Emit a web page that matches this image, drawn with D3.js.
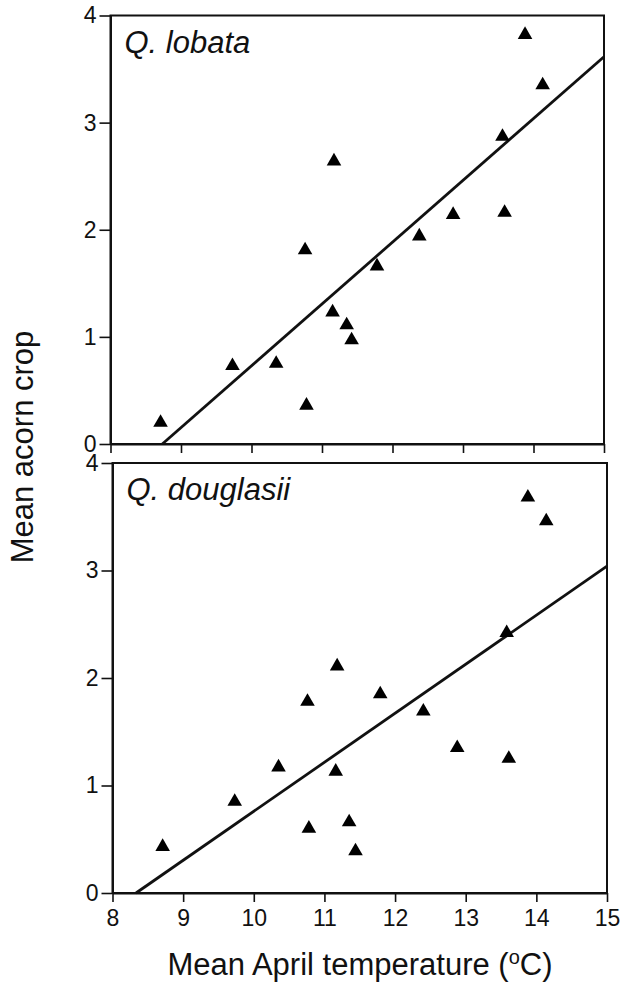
<!DOCTYPE html>
<html>
<head>
	<title>acorn crop vs april temperature</title>
	<script type="text/javascript" src="https://cdn.jsdelivr.net/npm/d3@7"></script>
	<style type="text/css">
		body{
			margin: 0;
			background: #fff;
		}
		text{
			fill: #111;
			font-family: "Liberation Sans", Arial, Helvetica, sans-serif;
		}
		.species{
			font-size: 31px;
			font-style: italic;
		}
		.axis-title{
			font-size: 31px;
		}
	</style>
</head>
<body>
<svg width="623" height="987"></svg>
<script type="text/javascript">
	// values
	var xTicks = [8, 9, 10, 11, 12, 13, 14, 15];
	var yTicks = [0, 1, 2, 3, 4];
	var speciesNames = ['Q. lobata', 'Q. douglasii'];

	var tempLobata = [8.71, 9.73, 10.35, 10.78, 10.76, 11.17, 11.15, 11.35, 11.42, 11.78, 12.38, 12.86, 13.59, 13.56, 13.88, 14.13];
	var cropLobata = [0.20, 0.73, 0.75, 0.36, 1.81, 2.64, 1.23, 1.11, 0.97, 1.66, 1.94, 2.14, 2.16, 2.87, 3.82, 3.35];

	var tempDouglasii = [8.71, 9.73, 10.35, 10.76, 10.78, 11.18, 11.16, 11.35, 11.44, 11.79, 12.40, 12.88, 13.61, 13.58, 13.88, 14.14];
	var cropDouglasii = [0.43, 0.85, 1.17, 1.78, 0.60, 2.11, 1.13, 0.66, 0.39, 1.85, 1.69, 1.35, 1.25, 2.42, 3.68, 3.46];

	// fitted lines: [slope, intercept]
	var fitLobata = [0.577, -5.04];
	var fitDouglasii = [0.456, -3.80];

	var svg = d3.select("svg");
	svg.append("rect").attr("width", 623).attr("height", 987).attr("fill", "#fff");

	var panels = [
		{name: speciesNames[0], xs: tempLobata, ys: cropLobata, fit: fitLobata,
			left: 110.5, right: 604, top: 15.5, bottom: 444, labels: false},
		{name: speciesNames[1], xs: tempDouglasii, ys: cropDouglasii, fit: fitDouglasii,
			left: 112.5, right: 607, top: 463, bottom: 893, labels: true}
	];

	var triangle = d3.symbol().type(d3.symbolTriangle).size(92);
	var fmt = d3.format("d");

	panels.forEach(function(p) {
		var x = d3.scaleLinear().domain([8, 15]).range([p.left, p.right]),
			y = d3.scaleLinear().domain([0, 4]).range([p.bottom, p.top]);

		var g = svg.append("g").attr("class", "panel");

		// 边框
		g.append("rect")
			.attr("x", p.left).attr("y", p.top)
			.attr("width", p.right - p.left).attr("height", p.bottom - p.top)
			.attr("fill", "none").attr("stroke", "#111").attr("stroke-width", 2);

		var xAxis = d3.axisBottom(x).tickValues(xTicks).tickSize(9).tickSizeOuter(0).tickPadding(8)
			.tickFormat(p.labels ? fmt : "");
		var gx = g.append("g").attr("transform", `translate(0,${p.bottom})`).call(xAxis);

		var gy = g.append("g").attr("transform", `translate(${p.left},0)`)
			.call(d3.axisLeft(y).tickValues(yTicks).tickFormat(fmt).tickSize(11).tickSizeOuter(0).tickPadding(3));

		[gx, gy].forEach(function(a) {
			a.attr("font-size", 23).attr("font-family", null);
			a.select(".domain").attr("stroke", "#111").attr("stroke-width", 2);
			a.selectAll(".tick line").attr("stroke", "#111").attr("stroke-width", 1.6);
			a.selectAll(".tick text").attr("fill", "#111");
		});

		// regression line from y = 0 to x = 15
		var x0 = -p.fit[1] / p.fit[0];
		var fitPts = [x0, 15].map(function(t) { return [t, p.fit[0] * t + p.fit[1]]; });
		g.append("path")
			.attr("fill", "none").attr("stroke", "#111").attr("stroke-width", 2.8)
			.attr("d", d3.line().x(function(d) { return x(d[0]); }).y(function(d) { return y(d[1]); })(fitPts));

		// points
		g.selectAll(".pt").data(d3.range(p.xs.length)).enter().append("path")
			.attr("class", "pt")
			.attr("fill", "#000")
			.attr("transform", function(i) { return `translate(${x(p.xs[i])},${y(p.ys[i])})`; })
			.attr("d", triangle);

		g.append("text").attr("class", "species")
			.attr("x", p.left + 14).attr("y", p.top + 37)
			.text(p.name);
	});

	// axis titles
	var xt = svg.append("text").attr("class", "axis-title")
		.attr("text-anchor", "middle")
		.attr("x", 360).attr("y", 975)
		.text("Mean April temperature (");
	xt.append("tspan").attr("font-size", "20px").attr("dy", -11).text("o");
	xt.append("tspan").attr("dy", 11).text("C)");

	svg.append("text").attr("class", "axis-title")
		.attr("text-anchor", "middle")
		.attr("transform", "translate(33,447) rotate(-90)")
		.text("Mean acorn crop");
</script>
</body>
</html>
